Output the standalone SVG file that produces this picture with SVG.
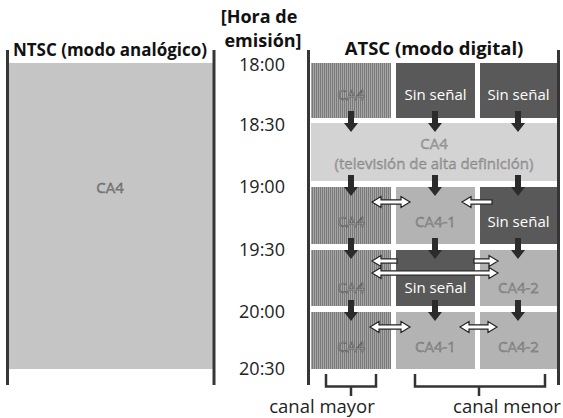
<svg xmlns="http://www.w3.org/2000/svg" width="563" height="418" viewBox="0 0 563 418">
<style>
.title{font-family:"Open Sans","Liberation Sans",sans-serif;font-weight:bold;fill:#111}
.time{font-family:"Open Sans","Liberation Sans",sans-serif;font-size:18px;fill:#222;text-anchor:middle}
.lbl{font-family:"Open Sans","Liberation Sans",sans-serif;font-size:18.5px;fill:#222;text-anchor:middle}
.cell{font-family:"Open Sans","Liberation Sans",sans-serif;font-size:15px;text-anchor:middle}
.ghost{fill:#9a9a9a;stroke:#555555;stroke-width:0.3}
.ghostd{fill:#a4a4a4;stroke:#3c3c3c;stroke-width:0.4}
.hdt{fill:#a2a2a2;stroke:#707070;stroke-width:0.3}
.white{fill:#ffffff}
.major{fill:url(#stripes)}
.none{fill:#595959}
.minor{fill:#b3b3b3}
.hd{fill:#d3d3d3}
.bar{stroke:#363636;stroke-width:3;fill:none}
.brk{stroke:#333;stroke-width:2.5;fill:none}
.dbl{fill:#fff;stroke:#222;stroke-width:1.2;stroke-linejoin:miter}
.dn{fill:#2b2b2b}
</style>
<defs>
<pattern id="stripes" patternUnits="userSpaceOnUse" x="0" y="0" width="2" height="2">
<rect x="0" y="0" width="2" height="2" fill="#a6a6a6"/>
<rect x="0" y="0" width="1" height="2" fill="#7a7a7a"/>
</pattern>
<path id="dn" d="M-3,0 H3 V12 H7 L0,21 L-7,12 H-3 Z"/>
</defs>

<!-- titles -->
<g id="titles">
<text class="title" x="110" y="56" font-size="17" text-anchor="middle">NTSC (modo analógico)</text>
<text class="title" x="259" y="23" font-size="18" text-anchor="middle">[Hora de</text>
<text class="title" x="263" y="47" font-size="18" text-anchor="middle">emisión]</text>
<text class="title" x="434" y="55" font-size="18.5" text-anchor="middle">ATSC (modo digital)</text>
</g>

<g id="times">
<text class="time" x="262" y="71">18:00</text>
<text class="time" x="262" y="131">18:30</text>
<text class="time" x="262" y="193">19:00</text>
<text class="time" x="262" y="256">19:30</text>
<text class="time" x="262" y="318">20:00</text>
<text class="time" x="262" y="375">20:30</text>
</g>

<!-- NTSC panel -->
<g id="ntsc">
<rect x="9" y="63" width="204" height="306" fill="#c5c5c5"/>
<text class="cell ghost" x="110" y="193" style="fill:#8a8a8a;stroke:#3a3a3a">CA4</text>
<path class="bar" d="M7.5,50 V385 M214,50 V385"/>
</g>

<!-- ATSC panel bars -->
<g id="atsc-frame">
<path class="bar" d="M308.5,50 V385 M558.5,50 V385"/>
</g>

<!-- Row 1 -->
<g id="r1c1"><rect class="major" x="311" y="63" width="80" height="55"/><text class="cell ghostd" x="351" y="100">CA4</text></g>
<g id="r1c2"><rect class="none" x="396" y="63" width="79" height="55"/><text class="cell white" x="435.5" y="100">Sin señal</text></g>
<g id="r1c3"><rect class="none" x="480" y="63" width="77" height="55"/><text class="cell white" x="518.5" y="100">Sin señal</text></g>

<!-- Row 2 HD -->
<g id="r2hd"><rect class="hd" x="311" y="123" width="246" height="58"/>
<text class="cell hdt" x="434" y="149">CA4</text>
<text class="cell hdt" x="434" y="169">(televisión de alta definición)</text></g>

<!-- Row 3 -->
<g id="r3c1"><rect class="major" x="311" y="187" width="80" height="57"/><text class="cell ghostd" x="351" y="227">CA4</text></g>
<g id="r3c2"><rect class="minor" x="396" y="187" width="79" height="57"/><text class="cell ghost" x="435.5" y="227">CA4-1</text></g>
<g id="r3c3"><rect class="none" x="480" y="187" width="77" height="57"/><text class="cell white" x="518.5" y="227">Sin señal</text></g>

<!-- Row 4 -->
<g id="r4c1"><rect class="major" x="311" y="250" width="80" height="56"/><text class="cell ghostd" x="351" y="293">CA4</text></g>
<g id="r4c2"><rect class="none" x="396" y="250" width="79" height="56"/><text class="cell white" x="435.5" y="293">Sin señal</text></g>
<g id="r4c3"><rect class="minor" x="480" y="250" width="77" height="56"/><text class="cell ghost" x="518.5" y="293">CA4-2</text></g>

<!-- Row 5 -->
<g id="r5c1"><rect class="major" x="311" y="312" width="80" height="57"/><text class="cell ghostd" x="351" y="352">CA4</text></g>
<g id="r5c2"><rect class="minor" x="396" y="312" width="79" height="57"/><text class="cell ghost" x="435.5" y="352">CA4-1</text></g>
<g id="r5c3"><rect class="minor" x="480" y="312" width="77" height="57"/><text class="cell ghost" x="518.5" y="352">CA4-2</text></g>

<!-- connectors -->
<g id="connectors">
<g class="dn">
<use href="#dn" x="351" y="111"/><use href="#dn" x="435" y="111"/><use href="#dn" x="518" y="111"/>
<use href="#dn" x="351" y="175"/><use href="#dn" x="435" y="175"/><use href="#dn" x="518" y="175"/>
<use href="#dn" x="351" y="238"/><use href="#dn" x="435" y="238"/><use href="#dn" x="518" y="238"/>
<use href="#dn" x="351" y="300"/><use href="#dn" x="435" y="300"/><use href="#dn" x="518" y="300"/>
</g>
<path class="dbl" d="M372,202 L381,196.5 L381,199.8 L401,199.8 L401,196.5 L410,202 L401,207.5 L401,204.2 L381,204.2 L381,207.5 Z"/>
<path class="dbl" d="M462,202 L471,196.5 L471,199.8 L492,199.8 L492,204.2 L471,204.2 L471,207.5 Z"/>
<path class="dbl" d="M372,261 L381,255.5 L381,258.8 L397,258.8 L397,263.2 L381,263.2 L381,266.5 Z"/>
<path class="dbl" d="M498,261 L489,255.5 L489,258.8 L474,258.8 L474,263.2 L489,263.2 L489,266.5 Z"/>
<path class="dbl" d="M372,273 L381,267.5 L381,270.8 L489,270.8 L489,267.5 L498,273 L489,278.5 L489,275.2 L381,275.2 L381,278.5 Z"/>
<path class="dbl" d="M370,327 L379,321.5 L379,324.8 L401,324.8 L401,321.5 L410,327 L401,332.5 L401,329.2 L379,329.2 L379,332.5 Z"/>
<path class="dbl" d="M460,327 L469,321.5 L469,324.8 L488,324.8 L488,321.5 L497,327 L488,332.5 L488,329.2 L469,329.2 L469,332.5 Z"/>
</g>

<!-- brackets -->
<g id="brackets">
<path class="brk" d="M326,374 V386.5 H376 V374 M351,386.5 V396"/>
<path class="brk" d="M415,374 V386.5 H545 V374 M479,386.5 V396"/>
<text class="lbl" x="322" y="413">canal mayor</text>
<text class="lbl" x="507" y="413">canal menor</text>
</g>
</svg>
